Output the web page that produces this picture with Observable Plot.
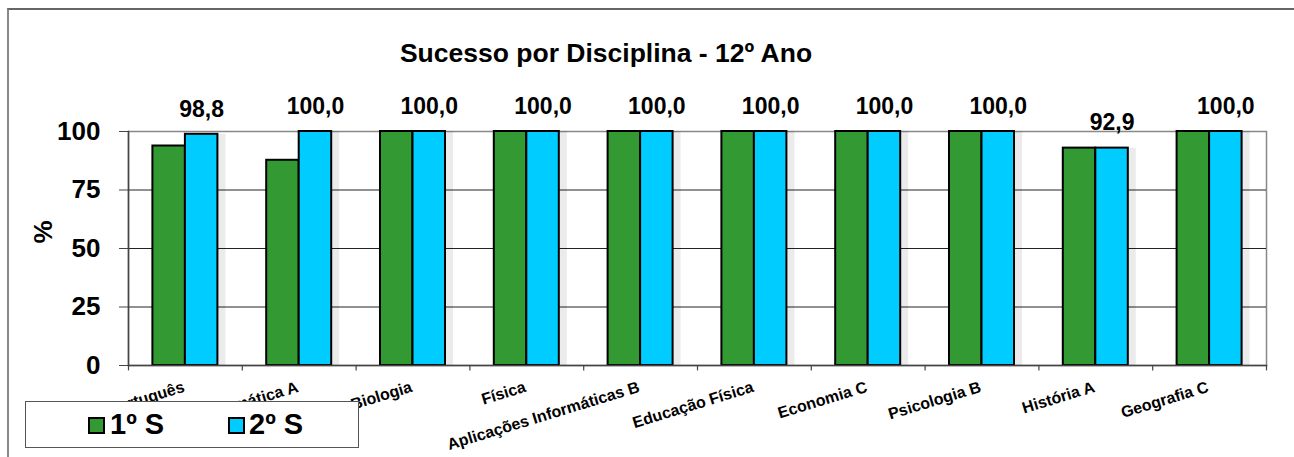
<!DOCTYPE html>
<html>
<head>
<meta charset="utf-8">
<script src="https://cdn.jsdelivr.net/npm/d3@7"></script>
<script src="https://cdn.jsdelivr.net/npm/@observablehq/plot@0.6"></script>
<style>
  html, body { margin: 0; padding: 0; background: #fff; }
  #wrap { position: relative; width: 1294px; height: 457px; overflow: hidden; font-family: "Liberation Sans", Arial, sans-serif; font-weight: bold; }
  #outer { position: absolute; left: 7px; top: 8px; width: 1400px; height: 600px; border-top: 2px solid #666; border-left: 2px solid #888; box-sizing: border-box; pointer-events: none; }
  #title { position: absolute; left: 0; top: 40px; width: 1212px; text-align: center; font-size: 26.5px; line-height: 26px; color: #000; }
  #legend { position: absolute; left: 25px; top: 401px; width: 334px; height: 47px; box-sizing: border-box; border: 1.5px solid #555; background: #fff; }
  .sw { position: absolute; width: 17px; height: 17px; box-sizing: border-box; border: 2px solid #000; }
  .lt { position: absolute; font-size: 29px; line-height: 29px; color: #000; }
  #chart { position: absolute; left: 0; top: 0; }
</style>
</head>
<body>
<div id="wrap">
  <div id="chart"></div>
  <div id="outer"></div>
  <div id="title"></div>
  <div id="legend"></div>
</div>
<script>
const title = "Sucesso por Disciplina - 12º Ano";
const subjects = ["Português", "Matemática A", "Biologia", "Física", "Aplicações Informáticas B", "Educação Física", "Economia C", "Psicologia B", "História A", "Geografia C"];
const series = ["1º S", "2º S"];
const s1 = [93.8, 87.7, 100, 100, 100, 100, 100, 100, 92.9, 100];
const s2 = [98.8, 100, 100, 100, 100, 100, 100, 100, 92.9, 100];
const yTicks = [0, 25, 50, 75, 100];
const colors = ["#339933", "#00CCFF"];

const W = 1294, H = 457, mL = 128, mR = 28, mT = 131, mB = 92;
const bw = (W - mL - mR) / subjects.length;
const half = bw / 2;
const barW = bw * 0.2856;
const outerPad = (bw - 2 * barW) / 2;

const rows1 = subjects.map((s, i) => ({subject: s, value: s1[i]}));
const rows2 = subjects.map((s, i) => ({subject: s, value: s2[i]}));
const fmt = v => v.toFixed(1).replace(".", ",");

const chart = Plot.plot({
  width: W, height: H,
  marginLeft: mL, marginRight: mR, marginTop: mT, marginBottom: mB,
  style: {fontFamily: "Liberation Sans, Arial, sans-serif", fontWeight: "bold", fontSize: "26px", color: "#000", background: "transparent"},
  x: {domain: subjects, padding: 0, round: false, axis: null},
  y: {domain: [0, 100], axis: null},
  marks: [
    Plot.frame({stroke: "#888", strokeWidth: 1.5}),
    Plot.gridY([25, 50, 75], {stroke: "#222", strokeOpacity: 1, strokeWidth: 1}),
    // bar shadows
    Plot.barY(rows1, {x: "subject", y: "value", fill: "#000", fillOpacity: 0.08, insetLeft: outerPad + 4, insetRight: outerPad + barW - 8}),
    Plot.barY(rows2, {x: "subject", y: "value", fill: "#000", fillOpacity: 0.08, insetLeft: outerPad + barW + 4, insetRight: outerPad - 8}),
    Plot.barY(rows1, {x: "subject", y: "value", fill: colors[0], stroke: "#000", strokeWidth: 2, insetLeft: outerPad, insetRight: outerPad + barW}),
    Plot.barY(rows2, {x: "subject", y: "value", fill: colors[1], stroke: "#000", strokeWidth: 2, insetLeft: outerPad + barW, insetRight: outerPad}),
    Plot.frame({anchor: "left", stroke: "#444", strokeWidth: 1.5}),
    Plot.frame({anchor: "bottom", stroke: "#444", strokeWidth: 1.5}),
    Plot.axisY(yTicks, {tickSize: 9, tickPadding: 19, stroke: "#444", label: null, fontSize: 26}),
    Plot.ruleX(subjects, {x: d => d, dx: -half, y1: 0, y2: -2.3, stroke: "#444", strokeWidth: 1.2}),
    Plot.ruleX([subjects[subjects.length - 1]], {x: d => d, dx: half, y1: 0, y2: -2.3, stroke: "#444", strokeWidth: 1.2}),
    Plot.text(rows2, {x: "subject", y: "value", text: d => fmt(d.value), dx: outerPad + barW * 1.5 - half, dy: -25, fontSize: 23, lineAnchor: "middle"}),
    Plot.text(subjects, {x: d => d, frameAnchor: "bottom", text: d => d, rotate: -17, textAnchor: "end", lineAnchor: "bottom", dy: 26, fontSize: 16}),
    Plot.text(["%"], {frameAnchor: "left", text: d => d, rotate: -90, dx: -85, dy: -5, fontSize: 26})
  ]
});
document.getElementById("chart").appendChild(chart);
document.getElementById("title").textContent = title;

const legend = document.getElementById("legend");
const items = [{sx: 62, tx: 84}, {sx: 202, tx: 223}];
series.forEach((s, i) => {
  const sw = document.createElement("div");
  sw.className = "sw";
  sw.style.left = items[i].sx + "px";
  sw.style.top = "14.5px";
  sw.style.background = colors[i];
  legend.appendChild(sw);
  const t = document.createElement("div");
  t.className = "lt";
  t.style.left = items[i].tx + "px";
  t.style.top = "8px";
  t.textContent = s;
  legend.appendChild(t);
});
</script>
</body>
</html>
